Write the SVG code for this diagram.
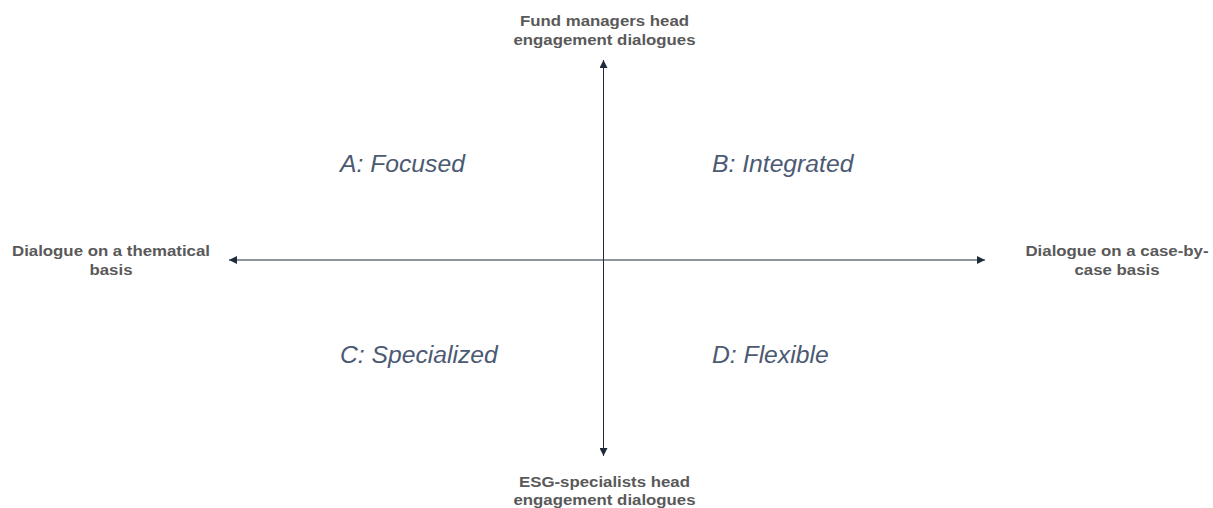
<svg xmlns="http://www.w3.org/2000/svg" width="1213" height="508" viewBox="0 0 1213 508">
  <style>
    .axis { stroke: #1f2a3a; stroke-width: 1; fill: none; }
    .lbl { font-family: "Liberation Sans", Arial, sans-serif; font-weight: bold; font-size: 14.5px; fill: #595959; text-anchor: middle; }
    .quad { font-family: "Liberation Sans", Arial, sans-serif; font-style: italic; font-size: 24.7px; fill: #4b5a72; }
  </style>
  <defs>
    <marker id="arr" viewBox="0 0 10 10" refX="10" refY="5" markerWidth="10" markerHeight="8" markerUnits="userSpaceOnUse" orient="auto">
      <path d="M0,0 L10,5 L0,10 Z" fill="#1f2a3a"/>
    </marker>
  </defs>
  <rect width="1213" height="508" fill="#ffffff"/>
  <g id="connectors">
    <line class="axis" x1="603.5" y1="260" x2="603.5" y2="60" marker-end="url(#arr)"/>
    <line class="axis" x1="603.5" y1="260" x2="603.5" y2="456" marker-end="url(#arr)"/>
    <line class="axis" x1="603.5" y1="260" x2="229" y2="260" marker-end="url(#arr)"/>
    <line class="axis" x1="603.5" y1="260" x2="985" y2="260" marker-end="url(#arr)"/>
  </g>
  <g id="top-label">
    <text class="lbl" transform="translate(604.5,25.5) scale(1.16,1)">Fund managers head</text>
    <text class="lbl" transform="translate(604.5,44.5) scale(1.16,1)">engagement dialogues</text>
  </g>
  <g id="bottom-label">
    <text class="lbl" transform="translate(604.5,486.5) scale(1.16,1)">ESG-specialists head</text>
    <text class="lbl" transform="translate(604.5,505) scale(1.16,1)">engagement dialogues</text>
  </g>
  <g id="left-label">
    <text class="lbl" transform="translate(111,256) scale(1.16,1)">Dialogue on a thematical</text>
    <text class="lbl" transform="translate(111,275) scale(1.16,1)">basis</text>
  </g>
  <g id="right-label">
    <text class="lbl" transform="translate(1117,256) scale(1.16,1)">Dialogue on a case-by-</text>
    <text class="lbl" transform="translate(1117,275) scale(1.16,1)">case basis</text>
  </g>
  <g id="quadrant-a"><text class="quad" x="340" y="172">A: Focused</text></g>
  <g id="quadrant-b"><text class="quad" x="712" y="172">B: Integrated</text></g>
  <g id="quadrant-c"><text class="quad" x="340" y="363">C: Specialized</text></g>
  <g id="quadrant-d"><text class="quad" x="712" y="363">D: Flexible</text></g>
</svg>
